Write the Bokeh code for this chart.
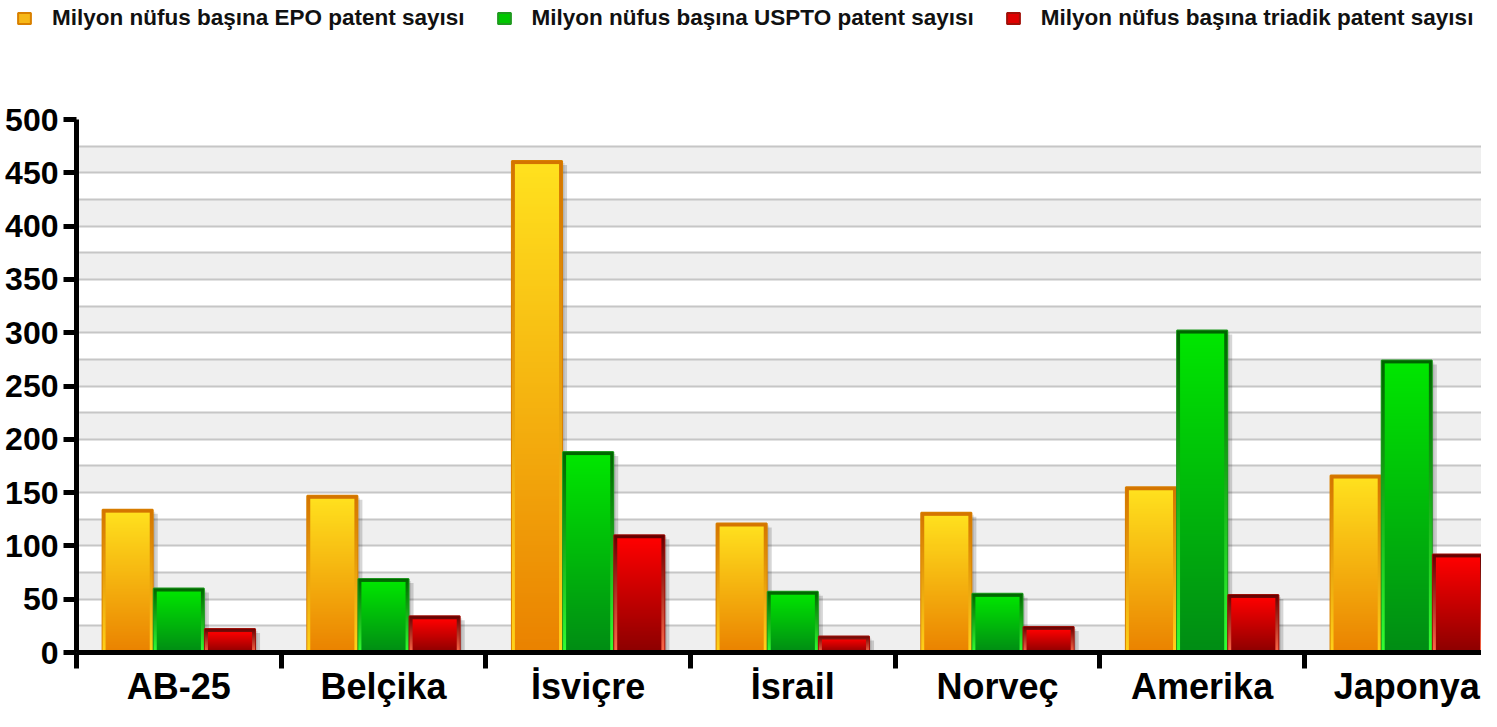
import numpy as np
from bokeh.plotting import figure
from bokeh.layouts import column
from bokeh.models import Range1d, FixedTicker, Legend, LegendItem
from bokeh.embed import file_html
from bokeh.resources import INLINE

# ---------------- data ----------------
categories = ["AB-25", "Belçika", "İsviçre", "İsrail", "Norveç", "Amerika", "Japonya"]
epo_values = [134, 147, 461, 121, 131, 155, 166]
uspto_values = [60, 69, 188, 57, 55, 302, 274]
triadic_values = [22, 34, 110, 15, 24, 54, 92]
series_names = [
    "Milyon nüfus başına EPO patent sayısı",
    "Milyon nüfus başına USPTO patent sayısı",
    "Milyon nüfus başına triadik patent sayısı",
]
y_ticks = [0, 50, 100, 150, 200, 250, 300, 350, 400, 450, 500]
grid_lines = [0] + list(range(0, 525, 25))   # leading duplicate shifts band parity

# ---------------- style ----------------
FONT = "Liberation Sans"
# (fill top, fill bottom, border top, border bottom, legend fill, legend line)
styles = [
    ("#ffe11e", "#ea8200", "#d47400", "#ffd21a", "#f7b818", "#d98000"),
    ("#00e600", "#008c14", "#006400", "#33ff33", "#00c800", "#1f9a1f"),
    ("#ff0000", "#8c0000", "#640000", "#ff6a4a", "#e00000", "#a01008"),
]
offsets = [0.25, 0.5, 0.75]
bar_w = 0.245

W, H = 1481, 711
LEG_H = 40
left_b, top_b, bottom_b = 76, 119 - LEG_H, 59
MAIN_H = H - LEG_H
frame_w = W - left_b
frame_h = MAIN_H - top_b - bottom_b
cat_px = 204.66
x_end = frame_w / cat_px
y_max = 500.0
px_x = frame_w / x_end      # pixels per x unit
px_y = frame_h / y_max      # pixels per y unit


def hex_rgb(h):
    h = h.lstrip("#")
    return np.array([int(h[i:i + 2], 16) for i in (0, 2, 4)], dtype=float)


def gradient(top, bottom, n=256):
    t = np.linspace(0.0, 1.0, n)[:, None]
    c = hex_rgb(bottom)[None, :] * (1 - t) + hex_rgb(top)[None, :] * t
    arr = np.zeros((n, 1, 4), dtype=np.uint8)
    arr[:, 0, :3] = np.round(c).astype(np.uint8)
    arr[:, 0, 3] = 255
    return arr.view(np.uint32).reshape(n, 1)


p = figure(
    width=W, height=MAIN_H,
    x_range=Range1d(0, x_end), y_range=Range1d(0, y_max),
    output_backend="svg", toolbar_location=None,
    min_border_left=left_b, min_border_right=0,
    min_border_top=top_b, min_border_bottom=bottom_b,
    background_fill_color="white", border_fill_color="white",
)
p.outline_line_color = None

# grid
p.xgrid.visible = False
p.ygrid.ticker = FixedTicker(ticks=grid_lines)
p.ygrid.grid_line_color = "#c6c6c6"
p.ygrid.grid_line_width = 2
p.ygrid.band_fill_color = "#efefef"
p.ygrid.band_fill_alpha = 1.0

# y axis
p.yaxis.ticker = FixedTicker(ticks=y_ticks)
p.yaxis.axis_line_width = 5
p.yaxis.axis_line_color = "black"
p.yaxis.major_tick_line_width = 5
p.yaxis.major_tick_line_color = "black"
p.yaxis.major_tick_out = 13
p.yaxis.major_tick_in = 0
p.yaxis.minor_tick_line_color = None
p.yaxis.major_label_standoff = 5
p.yaxis.major_label_text_font = FONT
p.yaxis.major_label_text_font_style = "bold"
p.yaxis.major_label_text_font_size = "32px"
p.yaxis.major_label_text_color = "black"

# x axis: labels at category centres, ticks at category boundaries
n_cat = len(categories)
centres = [i + 0.5 for i in range(n_cat)]
bounds = [float(i) for i in range(n_cat + 1)]
p.xaxis.ticker = FixedTicker(ticks=centres, minor_ticks=bounds)
p.xaxis.major_label_overrides = {c: name for c, name in zip(centres, categories)}
p.xaxis.axis_line_width = 5
p.xaxis.axis_line_color = "black"
p.xaxis.major_tick_line_color = None
p.xaxis.major_tick_out = 0
p.xaxis.major_tick_in = 0
p.xaxis.minor_tick_line_color = "black"
p.xaxis.minor_tick_line_width = 5
p.xaxis.minor_tick_out = 16
p.xaxis.minor_tick_in = 0
p.xaxis.major_label_standoff = -3
p.xaxis.major_label_text_font = FONT
p.xaxis.major_label_text_font_style = "bold"
p.xaxis.major_label_text_font_size = "36px"
p.xaxis.major_label_text_color = "black"

all_values = [epo_values, uspto_values, triadic_values]
xs_all = [np.arange(n_cat) + off for off in offsets]

# soft shadows
sh_dx = 5 / px_x
sh_dy = 4 / px_y
for xs, vals in zip(xs_all, all_values):
    v = np.array(vals, dtype=float)
    p.vbar(x=xs + sh_dx, top=v - sh_dy, width=bar_w, bottom=0,
           fill_color="black", fill_alpha=0.16, line_color=None)
    p.vbar(x=xs + sh_dx * 0.5, top=v - sh_dy * 0.5, width=bar_w, bottom=0,
           fill_color="black", fill_alpha=0.10, line_color=None)

bx = 3 / px_x
by = 3 / px_y
for (ft, fb, bt, bb, lf, ll), xs, vals in zip(styles, xs_all, all_values):
    v = np.array(vals, dtype=float)
    p.vbar(x=xs, top=v, width=bar_w, bottom=0,
           fill_color=lf, line_color=ll, line_width=2)
    border_img = gradient(bt, bb)
    fill_img = gradient(ft, fb)
    p.image_rgba(image=[border_img] * n_cat, x=list(xs - bar_w / 2), y=[0] * n_cat,
                 dw=[bar_w] * n_cat, dh=list(v))
    p.image_rgba(image=[fill_img] * n_cat, x=list(xs - bar_w / 2 + bx), y=[0] * n_cat,
                 dw=[bar_w - 2 * bx] * n_cat, dh=list(v - by))

# ---------------- legend strip (no axes; proxies hidden, legend still shows their glyphs) ----------------
lp = figure(
    width=W, height=LEG_H,
    x_range=Range1d(0, x_end), y_range=Range1d(-2 * y_max, -y_max),
    x_axis_location=None, y_axis_location=None,
    output_backend="svg", toolbar_location=None,
    min_border_left=0, min_border_right=0, min_border_top=0, min_border_bottom=0,
    background_fill_color="white", border_fill_color="white",
)
lp.outline_line_color = None
lp.grid.visible = False
if "frame_align" in lp.properties():
    lp.frame_align = False

legend_items = []
for (ft, fb, bt, bb, lf, ll), xs, vals, name in zip(styles, xs_all, all_values, series_names):
    r = lp.vbar(x=xs, top=vals, width=bar_w, bottom=0,
                fill_color=lf, line_color=ll, line_width=2)
    r.visible = False
    legend_items.append(LegendItem(label=name, renderers=[r]))

legend = Legend(
    items=legend_items, orientation="horizontal",
    location=(16, LEG_H - 4 - 27),
    glyph_width=16, glyph_height=14, label_standoff=20, spacing=31,
    padding=0, margin=0, border_line_color=None, background_fill_alpha=0,
    inactive_fill_alpha=0,
    label_text_font=FONT, label_text_font_style="bold",
    label_text_font_size="22.5px", label_text_color="#111111",
)
lp.add_layout(legend)

layout = column(lp, p, spacing=0)
open("out.html", "w").write(file_html(layout, INLINE))
